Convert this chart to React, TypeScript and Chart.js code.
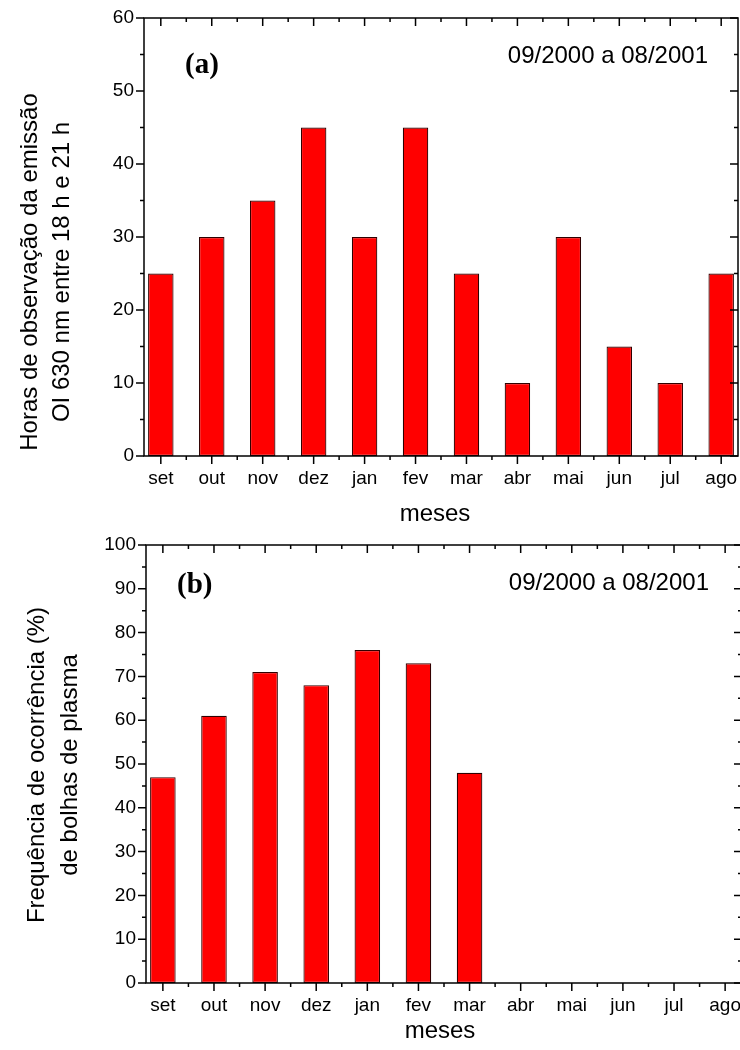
import React, { useEffect, useRef } from "react";
import { Chart, registerables } from "chart.js";

Chart.register(...registerables);

const MONTHS = ["set", "out", "nov", "dez", "jan", "fev", "mar", "abr", "mai", "jun", "jul", "ago"];
const HOURS = [25, 30, 35, 45, 30, 45, 25, 10, 30, 15, 10, 25];
const FREQ: (number | null)[] = [47, 61, 71, 68, 76, 73, 48, null, null, null, null, null];
const HOURS_Y_TICKS = [0, 10, 20, 30, 40, 50, 60];
const FREQ_Y_TICKS = [0, 10, 20, 30, 40, 50, 60, 70, 80, 90, 100];
const PERIOD = "09/2000 a 08/2001";
const X_TITLE = "meses";
const HOURS_TITLE = ["Horas de observação da emissão", "OI 630 nm entre 18 h e 21 h"];
const FREQ_TITLE = ["Frequência de ocorrência (%)", "de bolhas de plasma"];

const SANS = "'Liberation Sans', Arial, sans-serif";
const SERIF = "'Liberation Serif', 'Times New Roman', serif";

const framePlugin = {
  id: "frame",
  afterDraw(chart: any, _args: any, o: any) {
    const { ctx, chartArea: a } = chart;
    const x = chart.scales.x;
    const y = chart.scales.y;
    ctx.save();
    ctx.strokeStyle = "#000";
    ctx.lineWidth = 1.5;
    ctx.strokeRect(a.left, a.top, a.right - a.left, a.bottom - a.top);
    const MAJ = 8;
    const MIN = 4;
    ctx.beginPath();
    for (let i = 1; i <= MONTHS.length; i++) {
      const px = x.getPixelForValue(i);
      ctx.moveTo(px, a.bottom);
      ctx.lineTo(px, a.bottom + MAJ);
      ctx.moveTo(px, a.top);
      ctx.lineTo(px, a.top + MAJ);
      if (i < MONTHS.length) {
        const mx = x.getPixelForValue(i + 0.5);
        ctx.moveTo(mx, a.bottom);
        ctx.lineTo(mx, a.bottom + MIN);
        ctx.moveTo(mx, a.top);
        ctx.lineTo(mx, a.top + MIN);
      }
    }
    const yt: number[] = o.yTicks;
    const step = yt[1] - yt[0];
    for (let k = 0; k < yt.length; k++) {
      const py = y.getPixelForValue(yt[k]);
      ctx.moveTo(a.left, py);
      ctx.lineTo(a.left - MAJ, py);
      ctx.moveTo(a.right, py);
      ctx.lineTo(a.right - MAJ, py);
      if (k < yt.length - 1) {
        const my = y.getPixelForValue(yt[k] + step / 2);
        ctx.moveTo(a.left, my);
        ctx.lineTo(a.left - MIN, my);
        ctx.moveTo(a.right, my);
        ctx.lineTo(a.right - MIN, my);
      }
    }
    ctx.stroke();

    ctx.fillStyle = "#000";
    ctx.font = `bold 29px ${SERIF}`;
    ctx.textAlign = "left";
    ctx.textBaseline = "middle";
    ctx.fillText(o.tag, o.tagX, o.tagY);
    ctx.font = `24px ${SANS}`;
    ctx.textAlign = "right";
    ctx.fillText(PERIOD, o.periodX, o.periodY);
    ctx.textAlign = "center";
    ctx.fillText(X_TITLE, o.xTitleX, o.xTitleY);
    const lines: string[] = o.yTitle;
    for (let j = 0; j < lines.length; j++) {
      ctx.save();
      ctx.translate(o.yTitleX[j], o.yTitleY);
      ctx.rotate(-Math.PI / 2);
      ctx.textAlign = "center";
      ctx.textBaseline = "middle";
      ctx.fillText(lines[j], 0, 0);
      ctx.restore();
    }
    ctx.restore();
  },
};

type PanelProps = {
  values: (number | null)[];
  yTicks: number[];
  width: number;
  height: number;
  top: number;
  plotLeft: number;
  plotTop: number;
  plotRight: number;
  plotBottom: number;
  frame: any;
};

function Panel(p: PanelProps) {
  const ref = useRef<HTMLCanvasElement | null>(null);
  useEffect(() => {
    if (!ref.current) return;
    const yTicks = p.yTicks;
    const chart = new Chart(ref.current, {
      type: "bar",
      data: {
        datasets: [
          {
            data: p.values.map((v, i) => ({ x: i + 1, y: v })) as any,
            backgroundColor: "#ff0000",
            borderColor: "#300000",
            borderWidth: 1.2,
            borderSkipped: false,
            barPercentage: 0.5,
            categoryPercentage: 1,
          },
        ],
      },
      options: {
        responsive: false,
        animation: false,
        devicePixelRatio: 1,
        layout: {
          padding: {
            top: p.plotTop,
            right: p.width - p.plotRight,
            left: 0,
            bottom: 0,
          },
        },
        plugins: {
          legend: { display: false },
          tooltip: { enabled: false },
          frame: { ...p.frame, yTicks },
        } as any,
        scales: {
          x: {
            type: "linear",
            position: "bottom",
            offset: false,
            min: 1 - 0.33,
            max: MONTHS.length + 0.33,
            grid: { display: false, drawTicks: false },
            border: { display: false },
            afterBuildTicks: (s: any) => {
              s.ticks = MONTHS.map((_, i) => ({ value: i + 1 }));
            },
            afterFit: (s: any) => {
              s.height = p.height - p.plotBottom;
              s.paddingLeft = 0;
              s.paddingRight = 0;
            },
            ticks: {
              autoSkip: false,
              maxRotation: 0,
              padding: 11,
              color: "#000",
              font: { family: SANS, size: 19 },
              callback: (v: any) => MONTHS[Math.round(Number(v)) - 1] ?? "",
            },
          },
          y: {
            type: "linear",
            min: yTicks[0],
            max: yTicks[yTicks.length - 1],
            grid: { display: false, drawTicks: false },
            border: { display: false },
            afterBuildTicks: (s: any) => {
              s.ticks = yTicks.map((v) => ({ value: v }));
            },
            afterFit: (s: any) => {
              s.width = p.plotLeft;
              s.paddingTop = 0;
              s.paddingBottom = 0;
            },
            ticks: {
              padding: 10,
              color: "#000",
              font: { family: SANS, size: 19 },
            },
          },
        },
      },
      plugins: [framePlugin as any],
    });
    return () => chart.destroy();
  }, []);
  return (
    <canvas
      ref={ref}
      width={p.width}
      height={p.height}
      style={{ position: "absolute", left: 0, top: p.top, width: p.width, height: p.height }}
    />
  );
}

export default function App() {
  return (
    <div
      style={{
        position: "absolute",
        left: 0,
        top: 0,
        width: 740,
        height: 1050,
        overflow: "hidden",
        background: "#fff",
      }}
    >
      <Panel
        values={HOURS}
        yTicks={HOURS_Y_TICKS}
        width={740}
        height={528}
        top={0}
        plotLeft={144}
        plotTop={18}
        plotRight={738}
        plotBottom={456}
        frame={{
          tag: "(a)",
          tagX: 185,
          tagY: 66,
          periodX: 708,
          periodY: 56,
          xTitleX: 435,
          xTitleY: 514,
          yTitle: HOURS_TITLE,
          yTitleX: [30, 62],
          yTitleY: 272,
        }}
      />
      <Panel
        values={FREQ}
        yTicks={FREQ_Y_TICKS}
        width={748}
        height={522}
        top={528}
        plotLeft={146}
        plotTop={17}
        plotRight={742}
        plotBottom={455}
        frame={{
          tag: "(b)",
          tagX: 177,
          tagY: 58,
          periodX: 709,
          periodY: 55,
          xTitleX: 440,
          xTitleY: 503,
          yTitle: FREQ_TITLE,
          yTitleX: [37, 70],
          yTitleY: 237,
        }}
      />
    </div>
  );
}
